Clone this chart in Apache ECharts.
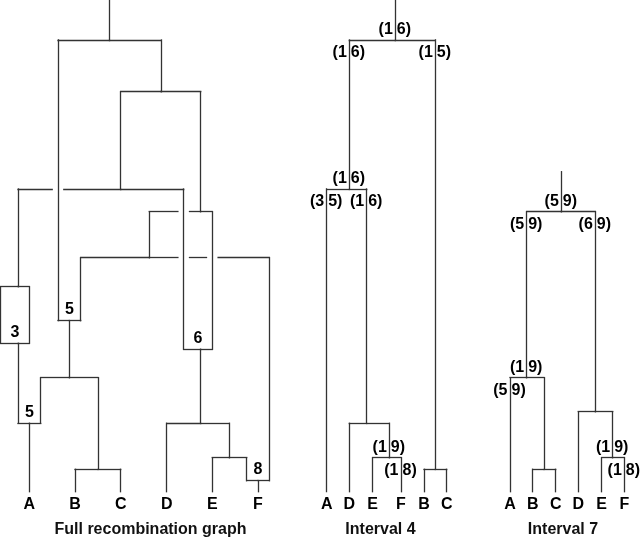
<!DOCTYPE html>
<html><head><meta charset="utf-8">
<script src="https://cdn.jsdelivr.net/npm/echarts@6/dist/echarts.min.js"></script>
<style>html,body{margin:0;padding:0;background:#fff}#c{width:640px;height:540px}</style>
</head><body><div id="c"></div>
<script>
// ================= DATA =================
// Panel titles
const panelTitles = ['Full recombination graph', 'Interval 4', 'Interval 7'];

// ---- Full recombination graph: nodes [id, position, height] ----
const fullNodeIds     = ['top','R','N1','N2','N3','N4','C3','Rec5a','Rec3','Rec6','N5','Rec5b','DEF','EF','BC','Rec8','A','B','C','D','E','F'];
const fullNodeX       = [109.5,109.5,161,120.7,200.7,149.3,18,69.3,18,200.7,69.3,29.3,200.7,229.3,98,258,29.3,75,120.7,166.7,212.3,258];
const fullNodeHeight  = [0,40,91.7,189,211.7,257.7,286.7,320.7,343.3,349.3,377.7,423.3,423.3,457.7,469.3,480.7,491.7,491.7,491.7,491.7,491.7,491.7];
// edges: child, parent, branch position (null = child position)
const fullEdgeChild   = ['R','N1','Rec5a','N2','N3','N4','C3','Rec6','Rec6','Rec5a','Rec8','Rec3','Rec3','N5','DEF','Rec5b','Rec5b','BC','EF','D','Rec8','E','F','A','B','C'];
const fullEdgeParent  = ['top','R','R','N1','N1','N3','N2','N2','N3','N4','N4','C3','C3','Rec5a','Rec6','Rec3','N5','N5','DEF','DEF','EF','EF','Rec8','Rec5b','BC','BC'];
const fullEdgeBranchX = [null,null,58,null,null,null,null,183.7,212.3,80.7,269.3,0.7,29.3,null,null,18,40.7,null,null,null,246.7,null,null,null,null,null];
// recombination events (breakpoint labels)
const fullRecNodes    = ['Rec3','Rec5a','Rec6','Rec5b','Rec8'];
const fullRecLabels   = ['3','5','6','5','8'];
const fullLeaves      = ['A','B','C','D','E','F'];

// ---- Interval 4 tree ----
const i4NodeIds    = ['top','r','a','b','c','d','A','D','E','F','B','C'];
const i4NodeX      = [395.3,395.3,349.3,435.3,366.7,389.3,326.7,349.3,372.7,401,424,446.7];
const i4NodeHeight = [0,40,189,469.3,423.3,457.7,491.7,491.7,491.7,491.7,491.7,491.7];
const i4EdgeChild  = ['r','a','b','A','c','D','d','E','F','B','C'];
const i4EdgeParent = ['top','r','r','a','a','c','c','d','d','b','b'];
const i4Leaves     = ['A','D','E','F','B','C'];
// branch annotations: node, side of node ('above' = just above node, 'below' = just below parent), left | right
const i4AnnNode  = ['r','a','b','a','A','c','d','F'];
const i4AnnSide  = ['above','below','below','above','below','below','above','below'];
const i4AnnLeft  = ['(1','(1','(1','(1','(3','(1','(1','(1'];
const i4AnnRight = ['6)','6)','5)','6)','5)','6)','9)','8)'];

// ---- Interval 7 tree ----
const i7NodeIds    = ['top','r','a','bc','b','ef','A','B','C','D','E','F'];
const i7NodeX      = [561.3,561.3,526.7,544,595.3,612.7,510,532.7,555.7,578.3,601.7,624.3];
const i7NodeHeight = [171.7,211.7,377.7,469.3,411.7,457.7,491.7,491.7,491.7,491.7,491.7,491.7];
const i7EdgeChild  = ['r','a','b','A','bc','B','C','D','ef','E','F'];
const i7EdgeParent = ['top','r','r','a','a','bc','bc','b','b','ef','ef'];
const i7Leaves     = ['A','B','C','D','E','F'];
const i7AnnNode  = ['r','a','b','a','A','ef','F'];
const i7AnnSide  = ['above','below','below','above','below','above','below'];
const i7AnnLeft  = ['(5','(5','(6','(1','(5','(1','(1'];
const i7AnnRight = ['9)','9)','9)','9)','9)','9)','8)'];

// ================= BUILD =================
const LINE = '#333333';
const FONT = '"Liberation Sans", Arial, Helvetica, sans-serif';

function nodeMap(ids, xs, hs) {
  const m = {};
  ids.forEach((id, i) => { m[id] = { x: xs[i], y: hs[i] }; });
  return m;
}
const fullN = nodeMap(fullNodeIds, fullNodeX, fullNodeHeight);
const i4N = nodeMap(i4NodeIds, i4NodeX, i4NodeHeight);
const i7N = nodeMap(i7NodeIds, i7NodeX, i7NodeHeight);

function edgeSegs(N, childs, parents, bx) {
  const segs = [];
  childs.forEach((cId, i) => {
    const c = N[cId], p = N[parents[i]];
    const xs = (bx && bx[i] != null) ? bx[i] : c.x;
    if (Math.abs(xs - c.x) > 0.01) segs.push([c.x, c.y, xs, c.y]);
    segs.push([xs, c.y, xs, p.y]);
    if (Math.abs(xs - p.x) > 0.01) segs.push([xs, p.y, p.x, p.y]);
  });
  return segs;
}

// break horizontal lines where an unrelated vertical passes through
function addGaps(segs) {
  const verts = segs.filter(s => s[0] === s[2]);
  const out = [];
  const GAP = 5.8;
  segs.forEach(s => {
    if (s[1] !== s[3]) { out.push(s); return; }
    const y = s[1], x1 = Math.min(s[0], s[2]), x2 = Math.max(s[0], s[2]);
    const cuts = [];
    verts.forEach(v => {
      const vy1 = Math.min(v[1], v[3]), vy2 = Math.max(v[1], v[3]);
      if (v[0] > x1 + 1 && v[0] < x2 - 1 && y > vy1 + 1 && y < vy2 - 1) cuts.push(v[0]);
    });
    cuts.sort((a, b) => a - b);
    let start = x1;
    cuts.forEach(cx => { out.push([start, y, cx - GAP, y]); start = cx + GAP; });
    out.push([start, y, x2, y]);
  });
  return out;
}

let segs = addGaps(edgeSegs(fullN, fullEdgeChild, fullEdgeParent, fullEdgeBranchX))
  .concat(edgeSegs(i4N, i4EdgeChild, i4EdgeParent))
  .concat(edgeSegs(i7N, i7EdgeChild, i7EdgeParent));

const lineData = segs.map(s => ({ coords: [[s[0], s[1]], [s[2], s[3]]] }));

// leaf labels
const leafLabelData = [];
[[fullN, fullLeaves], [i4N, i4Leaves], [i7N, i7Leaves]].forEach(([N, leaves]) => {
  leaves.forEach(l => leafLabelData.push({ value: [N[l].x, N[l].y + 13.3], name: l }));
});

// recombination box labels
const recLabelData = fullRecNodes.map((id, i) => {
  const xs = [];
  fullEdgeChild.forEach((c, j) => { if (c === id && fullEdgeBranchX[j] != null) xs.push(fullEdgeBranchX[j]); });
  const cx = xs.reduce((a, b) => a + b, 0) / xs.length;
  return { value: [cx, fullN[id].y - 11.2], name: fullRecLabels[i] };
});

// branch annotation labels
const annLeftData = [], annRightData = [];
function addAnn(N, childs, parents, nodes, sides, lefts, rights) {
  nodes.forEach((id, i) => {
    const n = N[id];
    let y;
    if (sides[i] === 'above') y = n.y - 10.3;
    else { const p = N[parents[childs.indexOf(id)]]; y = p.y + 12.8; }
    annLeftData.push({ value: [n.x, y], name: lefts[i] });
    annRightData.push({ value: [n.x, y], name: rights[i] });
  });
}
addAnn(i4N, i4EdgeChild, i4EdgeParent, i4AnnNode, i4AnnSide, i4AnnLeft, i4AnnRight);
addAnn(i7N, i7EdgeChild, i7EdgeParent, i7AnnNode, i7AnnSide, i7AnnLeft, i7AnnRight);

function textSeries(data, position, dist, size) {
  return {
    type: 'scatter', data: data, symbolSize: 1, silent: true, z: 5,
    itemStyle: { color: 'rgba(0,0,0,0)', opacity: 1 },
    label: {
      show: true, position: position, distance: dist,
      formatter: p => p.name,
      color: '#000', fontFamily: FONT, fontWeight: 'bold', fontSize: size,
      opacity: 1, textBorderWidth: 0
    },
    labelLayout: { hideOverlap: false },
    emphasis: { disabled: true }
  };
}

const chart = echarts.init(document.getElementById('c'), null, { renderer: 'canvas' });
chart.setOption({
  animation: false,
  backgroundColor: '#fff',
  grid: { left: 0, right: 0, top: 0, bottom: 0 },
  xAxis: { type: 'value', min: 0, max: 640, show: false },
  yAxis: { type: 'value', min: 0, max: 540, inverse: true, show: false },
  series: [
    {
      type: 'lines', coordinateSystem: 'cartesian2d', silent: true,
      data: lineData, symbol: 'none',
      lineStyle: { color: LINE, width: 1.3, opacity: 1, cap: 'square' }
    },
    textSeries(leafLabelData, 'inside', 0, 16),
    textSeries(recLabelData, 'inside', 0, 16),
    textSeries(annLeftData, 'left', 2, 16),
    textSeries(annRightData, 'right', 1, 16)
  ],
  graphic: [
    { type: 'text', x: 150.5, y: 530, style: { text: panelTitles[0], align: 'center', verticalAlign: 'middle', font: 'bold 16px ' + FONT, fill: '#111' } },
    { type: 'text', x: 380.5, y: 530, style: { text: panelTitles[1], align: 'center', verticalAlign: 'middle', font: 'bold 16px ' + FONT, fill: '#111' } },
    { type: 'text', x: 563, y: 530, style: { text: panelTitles[2], align: 'center', verticalAlign: 'middle', font: 'bold 16px ' + FONT, fill: '#111' } }
  ]
});
</script>
</body></html>
